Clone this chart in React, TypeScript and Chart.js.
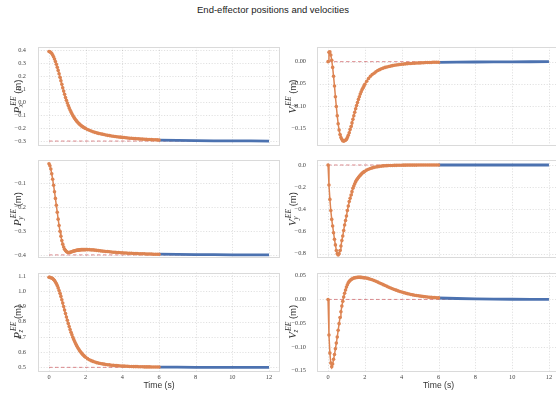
import React, { useEffect, useRef } from "react";
import { Chart, registerables } from "chart.js";
Chart.register(...registerables);

// ---------------- data ----------------
const TIME = [
  0, 0.05, 0.1, 0.15, 0.2, 0.25, 0.3, 0.35, 0.4, 0.45, 0.5, 0.55, 0.6, 0.65, 0.7, 0.75, 0.8, 0.85, 0.9, 0.95,
  1.0, 1.05, 1.1, 1.15, 1.2, 1.25, 1.3, 1.35, 1.4, 1.45, 1.5, 1.55, 1.6, 1.65, 1.7, 1.75, 1.8, 1.85, 1.9, 1.95, 2.0,
  2.1, 2.2, 2.3, 2.4, 2.5, 2.6, 2.7, 2.8, 2.9, 3.0, 3.1, 3.2, 3.3, 3.4, 3.5, 3.6, 3.7, 3.8, 3.9, 4.0,
  4.1, 4.2, 4.3, 4.4, 4.5, 4.6, 4.7, 4.8, 4.9, 5.0, 5.1, 5.2, 5.3, 5.4, 5.5, 5.6, 5.7, 5.8, 5.9, 6.0,
];

const PX = [
  0.388, 0.386, 0.381, 0.373, 0.362, 0.348, 0.331, 0.312, 0.29, 0.267, 0.243, 0.217, 0.191, 0.164, 0.137, 0.11, 0.084, 0.059, 0.035, 0.013,
  -0.008, -0.027, -0.045, -0.061, -0.076, -0.09, -0.103, -0.115, -0.126, -0.136, -0.145, -0.153, -0.161, -0.168, -0.175, -0.181, -0.186, -0.191, -0.196, -0.2, -0.204,
  -0.211, -0.217, -0.223, -0.228, -0.233, -0.237, -0.241, -0.244, -0.247, -0.25,
  -0.253, -0.256, -0.258, -0.261, -0.263, -0.265, -0.267, -0.269, -0.27, -0.272,
  -0.273, -0.275, -0.276, -0.278, -0.279, -0.28, -0.281, -0.282, -0.283, -0.284,
  -0.285, -0.286, -0.287, -0.288, -0.288, -0.289, -0.29, -0.29, -0.291, -0.292,
];
const PY = [
  -0.018, -0.026, -0.04, -0.06, -0.083, -0.108, -0.135, -0.163, -0.192, -0.221, -0.25, -0.277, -0.301, -0.322, -0.34, -0.355, -0.367, -0.376, -0.382, -0.386,
  -0.389, -0.39, -0.39, -0.389, -0.388, -0.387, -0.385, -0.384, -0.383, -0.382, -0.381, -0.38, -0.38, -0.379, -0.379, -0.378, -0.378, -0.378, -0.378, -0.378, -0.378,
  -0.378, -0.378, -0.379, -0.379, -0.38, -0.381, -0.382, -0.383, -0.384, -0.385,
  -0.386, -0.386, -0.387, -0.388, -0.389, -0.389, -0.39, -0.39, -0.391, -0.391,
  -0.392, -0.392, -0.393, -0.393, -0.393, -0.394, -0.394, -0.394, -0.395, -0.395,
  -0.395, -0.395, -0.396, -0.396, -0.396, -0.396, -0.397, -0.397, -0.397, -0.397,
];
const PZ = [
  1.092, 1.091, 1.089, 1.087, 1.083, 1.077, 1.07, 1.061, 1.05, 1.037, 1.022, 1.005, 0.986, 0.966, 0.944, 0.922, 0.899, 0.876, 0.853, 0.831,
  0.809, 0.788, 0.768, 0.749, 0.731, 0.714, 0.698, 0.683, 0.669, 0.656, 0.644, 0.633, 0.623, 0.614, 0.605, 0.597, 0.59, 0.583, 0.577, 0.571, 0.566,
  0.557, 0.55, 0.544, 0.539, 0.535, 0.531, 0.528, 0.525, 0.523, 0.521,
  0.519, 0.517, 0.516, 0.514, 0.513, 0.512, 0.511, 0.51, 0.509, 0.509,
  0.508, 0.507, 0.507, 0.506, 0.506, 0.505, 0.505, 0.505, 0.504, 0.504,
  0.504, 0.503, 0.503, 0.503, 0.503, 0.502, 0.502, 0.502, 0.502, 0.502,
];
const VX = [
  0, 0.021, 0.022, 0.015, 0.003, -0.013, -0.033, -0.055, -0.079, -0.101, -0.122, -0.14, -0.154, -0.164, -0.171, -0.175, -0.178, -0.179, -0.178, -0.177,
  -0.175, -0.171, -0.166, -0.16, -0.153, -0.146, -0.138, -0.13, -0.122, -0.114, -0.106, -0.099, -0.092, -0.085, -0.079, -0.073, -0.068, -0.063, -0.059, -0.055, -0.051,
  -0.044, -0.038, -0.033, -0.029, -0.026, -0.023, -0.02, -0.018, -0.016, -0.0145,
  -0.013, -0.012, -0.011, -0.01, -0.009, -0.008, -0.0075, -0.007, -0.0065, -0.006,
  -0.0055, -0.005, -0.0045, -0.004, -0.004, -0.0035, -0.0035, -0.003, -0.003, -0.003,
  -0.0025, -0.0025, -0.002, -0.002, -0.002, -0.002, -0.0015, -0.0015, -0.0015, -0.0015,
];
const VY = [
  0, -0.18, -0.31, -0.41, -0.49, -0.55, -0.61, -0.67, -0.72, -0.77, -0.8, -0.81, -0.8, -0.77, -0.73, -0.68, -0.64, -0.59, -0.54, -0.5,
  -0.46, -0.41, -0.37, -0.33, -0.3, -0.27, -0.24, -0.21, -0.19, -0.17, -0.15, -0.135, -0.125, -0.113, -0.102, -0.092, -0.083, -0.075, -0.068, -0.062, -0.056,
  -0.046, -0.038, -0.031, -0.026, -0.021, -0.018, -0.015, -0.012, -0.01, -0.008,
  -0.007, -0.006, -0.005, -0.004, -0.004, -0.003, -0.003, -0.002, -0.002, -0.002,
  -0.0015, -0.0015, -0.001, -0.001, -0.001, -0.001, -0.0008, -0.0008, -0.0006, -0.0006,
  -0.0005, -0.0005, -0.0004, -0.0004, -0.0003, -0.0003, -0.0003, -0.0002, -0.0002, -0.0002,
];
const VZ = [
  0, -0.075, -0.113, -0.134, -0.142, -0.136, -0.126, -0.116, -0.104, -0.092, -0.079, -0.065, -0.051, -0.038, -0.026, -0.014, -0.004, 0.005, 0.013, 0.02,
  0.026, 0.031, 0.035, 0.038, 0.04, 0.042, 0.043, 0.044, 0.045, 0.0455, 0.046, 0.0463, 0.0465, 0.0466, 0.0466, 0.0465, 0.0464, 0.0462, 0.046, 0.0457, 0.0454,
  0.0448, 0.0438, 0.0426, 0.0413, 0.0398, 0.0382, 0.0365, 0.0347, 0.0329, 0.0311,
  0.0293, 0.0275, 0.0258, 0.0241, 0.0225, 0.021, 0.0195, 0.0181, 0.0168, 0.0155,
  0.0144, 0.0133, 0.0123, 0.0113, 0.0104, 0.0096, 0.0089, 0.0082, 0.0076, 0.007,
  0.0065, 0.006, 0.0055, 0.0051, 0.0047, 0.0044, 0.0041, 0.0038, 0.0035, 0.0032,
];

const TAIL_TIME = [6, 7, 8, 9, 10, 11, 12];
const PX_TAIL = [-0.293, -0.295, -0.297, -0.298, -0.299, -0.299, -0.3];
const PY_TAIL = [-0.397, -0.398, -0.399, -0.399, -0.4, -0.4, -0.4];
const PZ_TAIL = [0.501, 0.501, 0.5, 0.5, 0.5, 0.5, 0.5];
const VX_TAIL = [-0.0015, -0.001, -0.0008, -0.0005, -0.0003, -0.0002, -0.0001];
const VY_TAIL = [-0.0002, -0.0001, -0.0001, 0, 0, 0, 0];
const VZ_TAIL = [0.003, 0.002, 0.0012, 0.0007, 0.0004, 0.0002, 0.0001];

const REF_TIME = [0, 12];
const PX_REF = [-0.3, -0.3];
const PY_REF = [-0.4, -0.4];
const PZ_REF = [0.5, 0.5];
const V_REF = [0, 0];

const X_TICKS = [0, 2, 4, 6, 8, 10, 12];
const PX_TICKS = [-0.3, -0.2, -0.1, 0, 0.1, 0.2, 0.3, 0.4];
const PY_TICKS = [-0.4, -0.3, -0.2, -0.1];
const PZ_TICKS = [0.5, 0.6, 0.7, 0.8, 0.9, 1.0, 1.1];
const VX_TICKS = [-0.15, -0.1, -0.05, 0];
const VY_TICKS = [-0.8, -0.6, -0.4, -0.2, 0];
const VZ_TICKS = [-0.15, -0.1, -0.05, 0, 0.05];

const TITLE = "End-effector positions and velocities";
const X_LABEL = "Time (s)";

// ---------------- style / layout ----------------
const ORANGE = "#dd8452";
const BLUE = "#4c72b0";
const REF_RED = "rgba(205,90,95,0.7)";
const GRID = "rgba(0,0,0,0.15)";
const FRAME = "#dadada";
const TICK_FONT = '"Liberation Serif", serif';
const SANS = '"Liberation Sans", Arial, sans-serif';
const W = 556;
const H = 399;

const COLS = [
  { canvasLeft: 0, width: 284, areaLeft: 38, areaRight: 280, tickPad: 4, titleX: 20.5 },
  { canvasLeft: 280, width: 282, areaLeft: 37, areaRight: 280, tickPad: 3, titleX: 15.5 },
];
const ROWS = [
  { top: 47, bottom: 146 },
  { top: 160, bottom: 258 },
  { top: 272.5, bottom: 371 },
];

type Panel = {
  sym: string; sub: string; main: number[]; tail: number[]; ref: number[];
  ticks: number[]; dec: number; min: number; max: number; col: number; row: number;
};

const PANELS: Panel[] = [
  { sym: "P", sub: "x", main: PX, tail: PX_TAIL, ref: PX_REF, ticks: PX_TICKS, dec: 1, min: -0.338, max: 0.423, col: 0, row: 0 },
  { sym: "V", sub: "x", main: VX, tail: VX_TAIL, ref: V_REF, ticks: VX_TICKS, dec: 2, min: -0.19, max: 0.033, col: 1, row: 0 },
  { sym: "P", sub: "y", main: PY, tail: PY_TAIL, ref: PY_REF, ticks: PY_TICKS, dec: 1, min: -0.413, max: -0.002, col: 0, row: 1 },
  { sym: "V", sub: "y", main: VY, tail: VY_TAIL, ref: V_REF, ticks: VY_TICKS, dec: 1, min: -0.838, max: 0.045, col: 1, row: 1 },
  { sym: "P", sub: "z", main: PZ, tail: PZ_TAIL, ref: PZ_REF, ticks: PZ_TICKS, dec: 1, min: 0.476, max: 1.123, col: 0, row: 2 },
  { sym: "V", sub: "z", main: VZ, tail: VZ_TAIL, ref: V_REF, ticks: VZ_TICKS, dec: 2, min: -0.1507, max: 0.0567, col: 1, row: 2 },
];

function fmt(v: number, d: number) {
  const s = Math.abs(v).toFixed(d);
  return (v < -1e-9 ? "\u2212" : "") + s;
}

function buildChart(canvas: HTMLCanvasElement, p: Panel) {
  const col = COLS[p.col];
  const row = ROWS[p.row];
  const isBottom = p.row === 2;

  const decor = {
    id: "decor" + p.col + p.row,
    beforeDatasetsDraw(chart: any) {
      const { ctx, chartArea: a, scales } = chart;
      ctx.save();
      ctx.strokeStyle = GRID;
      ctx.lineWidth = 0.8;
      ctx.setLineDash([1.2, 1.6]);
      ctx.beginPath();
      for (const v of X_TICKS) {
        const x = Math.round(scales.x.getPixelForValue(v)) + 0.5;
        ctx.moveTo(x, a.top);
        ctx.lineTo(x, a.bottom);
      }
      for (const v of p.ticks) {
        const y = Math.round(scales.y.getPixelForValue(v)) + 0.5;
        ctx.moveTo(a.left, y);
        ctx.lineTo(a.right, y);
      }
      ctx.stroke();
      ctx.setLineDash([]);
      ctx.strokeStyle = FRAME;
      ctx.lineWidth = 1;
      ctx.strokeRect(Math.round(a.left) + 0.5, Math.round(a.top) + 0.5, Math.round(a.width) - 1, Math.round(a.height) - 1);
      ctx.restore();
    },
    afterDraw(chart: any) {
      const { ctx, chartArea: a, scales } = chart;
      // y-axis title  P^{EE}_x (m)
      ctx.save();
      ctx.fillStyle = "#333";
      ctx.translate(col.titleX, (a.top + a.bottom) / 2);
      ctx.rotate(-Math.PI / 2);
      ctx.textAlign = "left";
      ctx.textBaseline = "alphabetic";
      const fMain = 'italic 11px "Liberation Serif", serif';
      const fSmall = 'italic 7.5px "Liberation Serif", serif';
      const fUnit = "9.5px " + SANS;
      ctx.font = fMain;
      const wP = ctx.measureText(p.sym).width;
      ctx.font = fSmall;
      const wS = Math.max(ctx.measureText("EE").width, ctx.measureText(p.sub).width);
      ctx.font = fUnit;
      const wU = ctx.measureText(" (m)").width;
      const total = wP + 1 + wS + wU;
      let x = -total / 2;
      ctx.font = fMain;
      ctx.fillText(p.sym, x, 0);
      x += wP + 1;
      ctx.font = fSmall;
      ctx.fillText("EE", x, -5);
      ctx.fillText(p.sub, x - 1.5, 2.8);
      x += wS;
      ctx.font = fUnit;
      ctx.fillText(" (m)", x, 0);
      ctx.restore();
      if (isBottom) {
        ctx.save();
        ctx.fillStyle = "#444";
        ctx.font = "6.3px " + TICK_FONT;
        ctx.textAlign = "center";
        ctx.textBaseline = "top";
        for (const v of X_TICKS) {
          ctx.fillText(String(v), scales.x.getPixelForValue(v), a.bottom + 3);
        }
        ctx.fillStyle = "#333";
        ctx.font = "8.6px " + SANS;
        ctx.textBaseline = "middle";
        ctx.fillText(X_LABEL, (a.left + a.right) / 2, 386);
        ctx.restore();
      }
    },
  };

  return new Chart(canvas, {
    type: "line",
    data: {
      datasets: [
        {
          data: TIME.map((t, i) => ({ x: t, y: p.main[i] })),
          borderColor: ORANGE,
          backgroundColor: ORANGE,
          borderWidth: 1.5,
          pointRadius: 1.8,
          pointBorderWidth: 0,
          pointBackgroundColor: ORANGE,
          order: 0,
        },
        {
          data: TAIL_TIME.map((t, i) => ({ x: t, y: p.tail[i] })),
          borderColor: BLUE,
          borderWidth: 2.8,
          pointRadius: 0,
          order: 1,
        },
        {
          data: REF_TIME.map((t, i) => ({ x: t, y: p.ref[i] })),
          borderColor: REF_RED,
          borderWidth: 1,
          borderDash: [3.5, 2.5],
          pointRadius: 0,
          order: 2,
        },
      ] as any,
    },
    options: {
      animation: false,
      responsive: false,
      devicePixelRatio: 1,
      events: [],
      layout: {
        autoPadding: false,
        padding: { left: 0, top: row.top, right: col.width - col.areaRight, bottom: H - row.bottom },
      } as any,
      plugins: { legend: { display: false }, tooltip: { enabled: false }, title: { display: false } },
      scales: {
        x: {
          type: "linear",
          min: -0.6,
          max: 12.6,
          grid: { display: false },
          border: { display: false },
          afterBuildTicks: (s: any) => { s.ticks = X_TICKS.map((v) => ({ value: v })); },
          afterFit: (s: any) => { s.height = 0; },
          ticks: { display: false },
        },
        y: {
          type: "linear",
          min: p.min,
          max: p.max,
          grid: { display: false },
          border: { display: false },
          afterBuildTicks: (s: any) => { s.ticks = p.ticks.map((v) => ({ value: v })); },
          afterFit: (s: any) => { s.width = col.areaLeft; },
          ticks: {
            padding: col.tickPad,
            autoSkip: false,
            color: "#444",
            font: { family: TICK_FONT, size: 6.3 },
            callback: (v: any) => fmt(Number(v), p.dec),
          },
        },
      },
    } as any,
    plugins: [decor],
  });
}

export default function App() {
  const refs = useRef<(HTMLCanvasElement | null)[]>([]);
  useEffect(() => {
    document.body.style.margin = "0";
    const charts = PANELS.map((p, i) => buildChart(refs.current[i] as HTMLCanvasElement, p));
    return () => charts.forEach((c) => c.destroy());
  }, []);
  return (
    <div style={{ position: "absolute", left: 0, top: 0, width: W, height: H, overflow: "hidden", background: "#fff" }}>
      <div
        style={{
          position: "absolute", left: 0, top: 4, width: 546, textAlign: "center",
          fontFamily: SANS, fontSize: "9.5px", lineHeight: "12px", color: "#222",
        }}
      >
        {TITLE}
      </div>
      {PANELS.map((p, i) => {
        const col = COLS[p.col];
        return (
          <canvas
            key={i}
            ref={(el) => { refs.current[i] = el; }}
            width={col.width}
            height={H}
            style={{ position: "absolute", left: col.canvasLeft, top: 0, width: col.width, height: H }}
          />
        );
      })}
    </div>
  );
}
